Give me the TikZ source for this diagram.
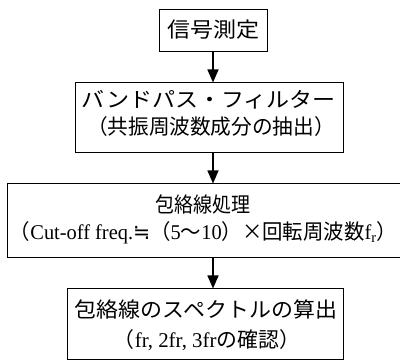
\documentclass[tikz,border=0pt]{standalone}
\usepackage{fontspec}
\usepackage{graphicx}
\setmainfont{Liberation Serif}
\newfontfamily\jp{Noto Sans CJK JP}
\newfontfamily\dv{DejaVu Sans}
\usetikzlibrary{arrows.meta}
\newcommand{\fitto}[2]{\resizebox{#1}{\height}{#2}}
\begin{document}
\begin{tikzpicture}[x=1pt,y=-1pt,
  box/.style={draw=black,line width=1pt,inner sep=0pt},
  txt/.style={inner sep=0pt,anchor=center,font=\fontsize{21}{21}\selectfont},
  flow/.style={line width=1.4pt,-{Triangle[length=13pt,width=11pt]}}]
\useasboundingbox (0,0) rectangle (400,363);
\clip (0,0) rectangle (400,363);
% boxes
\node[box,minimum width=108pt,minimum height=42pt] (b1) at (213,31) {};
\node[box,minimum width=268pt,minimum height=70pt] (b2) at (209,118) {};
\node[box,minimum width=403pt,minimum height=74pt] (b3) at (208.5,221) {};
\node[box,minimum width=276pt,minimum height=71pt] (b4) at (205,324.5) {};
% texts
\node[txt] (t1) at (213,30) {\jp\fitto{92pt}{信号測定}};
\node[txt] (t2a) at (209,100) {\jp\fitto{254pt}{バンドパス・フィルター}};
\node[txt] (t2b) at (211,127) {\jp\fitto{248pt}{（共振周波数成分の抽出）}};
\node[txt] (t3a) at (203,204) {\jp\fitto{95pt}{包絡線処理}};
\node[txt] (t3b) at (203.5,233) {\fitto{387pt}{{\jp （}Cut-off freq.{\dv ≒}{\jp （}5{\jp 〜}10{\jp ）×回転周波数}f\textsubscript{r}{\jp ）}}};
\node[txt] (t4a) at (206,309) {\jp\fitto{262pt}{包絡線のスペクトルの算出}};
\node[txt] (t4b) at (207,340) {\fitto{186pt}{{\jp （}fr, 2fr, 3fr{\jp の確認）}}};
% connectors
\draw[flow] (b1.south) -- (b1.south |- b2.north);
\draw[flow] (b1.south |- b2.south) -- (b1.south |- b3.north);
\draw[flow] (b1.south |- b3.south) -- (b1.south |- b4.north);
\end{tikzpicture}
\end{document}
